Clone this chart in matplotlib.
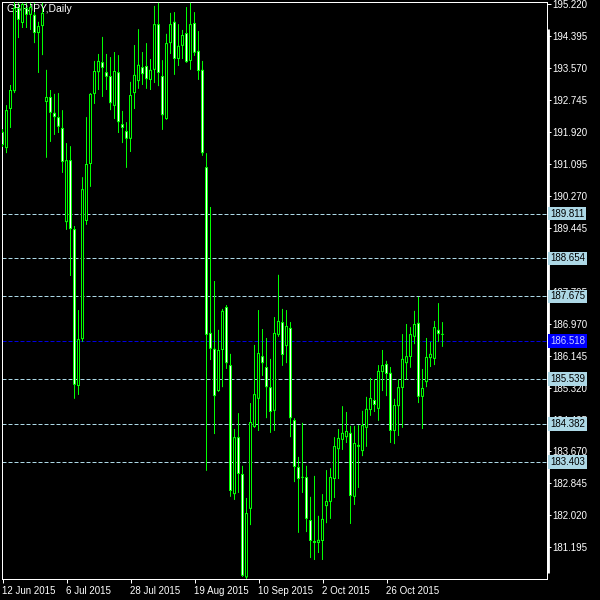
import matplotlib
matplotlib.use("Agg")
import matplotlib.pyplot as plt
import numpy as np

plt.rcParams['font.family'] = ['Liberation Sans', 'DejaVu Sans']

# GBPJPY daily, 12 Jun 2015 .. mid Nov 2015
opens = [191.92, 191.50, 192.51, 192.97, 195.12, 194.73, 195.12, 194.94, 194.94, 194.47,
         194.65, 192.69, 192.82, 192.41, 192.30, 192.02, 189.59, 191.19, 189.41, 185.36,
         186.57, 189.62, 191.09, 192.90, 193.46, 193.72, 193.46, 193.36, 192.59, 193.46,
         192.12, 191.94, 191.74, 192.92, 193.23, 193.59, 193.62, 193.26, 193.52, 194.70,
         193.36, 192.25, 194.21, 194.76, 193.80, 194.14, 194.47, 193.75, 194.73, 194.01,
         193.52, 191.01, 186.73, 186.32, 185.23, 186.29, 187.40, 185.90, 182.57, 184.04,
         183.09, 180.42, 182.19, 184.30, 185.03, 186.13, 185.85, 185.33, 184.72, 186.68,
         187.01, 186.39, 186.86, 184.48, 183.27, 183.01, 183.01, 181.90, 181.36, 181.31,
         181.36, 182.26, 182.37, 182.96, 183.73, 183.97, 184.04, 184.15, 182.50, 183.84,
         183.68, 184.28, 184.74, 185.00, 184.77, 185.72, 185.93, 185.70, 184.20, 184.84,
         185.31, 185.95, 186.11, 186.63, 186.99, 185.08, 185.46, 186.08, 186.06, 186.81,
         186.70]
highs = [191.99, 192.61, 193.13, 195.27, 195.25, 195.25, 195.25, 195.25, 195.25, 194.76,
         195.25, 193.52, 193.00, 192.90, 192.92, 192.48, 191.63, 191.55, 189.49, 187.32,
         190.75, 192.30, 192.92, 193.75, 193.93, 194.37, 193.93, 193.85, 193.98, 193.90,
         192.46, 192.17, 193.21, 194.16, 194.57, 193.98, 194.21, 193.80, 195.17, 195.25,
         193.77, 194.45, 194.99, 195.01, 194.70, 194.55, 195.14, 195.25, 195.01, 194.52,
         193.75, 191.37, 189.98, 188.07, 186.81, 187.35, 187.45, 186.19, 184.25, 184.66,
         183.30, 182.47, 184.92, 186.42, 187.32, 186.83, 186.60, 186.06, 187.14, 188.23,
         187.35, 187.32, 187.01, 184.53, 183.53, 184.41, 183.30, 182.50, 183.04, 182.01,
         182.57, 183.19, 183.24, 184.04, 184.25, 184.84, 184.69, 184.33, 184.33, 184.35,
         184.72, 185.08, 185.57, 185.54, 185.90, 186.29, 186.01, 185.85, 185.03, 185.54,
         186.70, 186.96, 186.88, 187.30, 187.66, 185.80, 186.60, 186.50, 187.04, 187.50,
         187.01]
lows = [191.53, 191.37, 192.02, 192.92, 194.34, 194.60, 194.60, 194.55, 194.21, 193.44,
        193.90, 191.25, 191.66, 191.84, 191.89, 190.86, 189.39, 188.20, 185.03, 185.13,
        186.50, 189.52, 190.50, 192.64, 193.00, 192.82, 193.00, 192.48, 192.25, 191.89,
        191.63, 190.99, 191.40, 192.51, 193.03, 193.13, 193.03, 193.00, 193.18, 193.10,
        191.97, 192.23, 193.93, 193.39, 193.62, 193.80, 193.70, 193.52, 193.88, 193.26,
        191.30, 183.17, 186.03, 184.12, 185.21, 185.33, 185.80, 182.50, 182.42, 182.60,
        180.43, 180.38, 181.77, 184.28, 184.20, 185.62, 184.53, 184.15, 184.20, 186.63,
        185.88, 185.95, 184.04, 182.88, 181.57, 182.60, 181.59, 180.92, 180.87, 181.05,
        180.87, 181.82, 181.93, 182.47, 182.96, 183.71, 183.89, 181.80, 182.29, 182.73,
        183.55, 183.79, 184.59, 184.69, 184.46, 185.23, 185.10, 183.89, 183.86, 184.07,
        184.28, 185.52, 185.83, 186.44, 184.92, 184.25, 185.33, 185.85, 185.90, 186.50,
        186.37]
closes = [191.58, 192.48, 193.00, 195.12, 194.81, 195.22, 194.94, 195.14, 194.47, 194.65,
          194.99, 192.82, 192.41, 192.30, 192.05, 191.14, 191.19, 189.41, 185.39, 186.57,
          190.44, 191.09, 192.90, 193.49, 193.75, 193.57, 193.34, 192.66, 193.49, 192.17,
          192.02, 191.74, 192.87, 193.39, 193.65, 193.41, 193.28, 193.52, 194.70, 193.44,
          192.35, 194.21, 194.70, 193.80, 194.14, 194.42, 193.72, 194.70, 193.96, 193.49,
          191.37, 186.68, 186.32, 185.10, 186.29, 187.30, 185.95, 182.65, 184.04, 183.09,
          180.46, 182.08, 184.43, 185.15, 186.21, 185.95, 185.33, 184.69, 186.73, 187.04,
          186.16, 186.91, 184.53, 183.27, 182.96, 182.99, 181.93, 181.36, 181.31, 181.39,
          181.93, 182.39, 183.01, 183.81, 184.02, 184.15, 184.20, 182.52, 183.89, 183.79,
          184.35, 184.77, 185.05, 184.87, 185.75, 185.90, 185.67, 184.20, 184.87, 185.33,
          186.06, 186.13, 186.70, 186.96, 185.08, 185.31, 186.11, 186.19, 186.88, 186.70,
          186.68]

date_pos = [0, 16, 32, 48, 64, 80, 96]
date_labels = ['12 Jun 2015', '6 Jul 2015', '28 Jul 2015', '19 Aug 2015',
               '10 Sep 2015', '2 Oct 2015', '26 Oct 2015']

price_ticks = [195.220, 194.395, 193.570, 192.745, 191.920, 191.095, 190.270, 189.445,
               188.620, 187.795, 186.970, 186.145, 185.320, 184.495, 183.670, 182.845,
               182.020, 181.195]

levels = [189.811, 188.654, 187.675, 185.539, 184.382, 183.403]
bid = 186.518

o = np.array(opens)
h = np.array(highs)
l = np.array(lows)
c = np.array(closes)
x = np.arange(len(o))
up = c >= o

fig = plt.figure(figsize=(6, 6), dpi=100, facecolor='black')
ax = fig.add_axes([2 / 600, 21 / 600, 545 / 600, 577 / 600])
ax.set_facecolor('black')
ax.set_xlim(-0.125, 136.125)
ax.set_ylim(180.379, 195.271)
px = (195.271 - 180.379) / 577  # one screen pixel in price units

green = '#00FF00'
ax.vlines(x, l, h, color=green, lw=0.72, zorder=3, snap=False)
body = np.abs(c - o)
bottom = np.minimum(o, c)
# green outline (3 px wide), then the 1 px inner fill:
# MetaTrader "green on black" -> bull candle black, bear candle white
ax.bar(x, np.maximum(body, px), bottom=bottom, width=0.75, color=green,
       lw=0, zorder=4, snap=False)
inner = body - 2 * px
m = inner > 0
ax.bar(x[m], inner[m], bottom=bottom[m] + px, width=0.25,
       color=np.where(up, 'black', 'white')[m], lw=0, zorder=5, snap=False)

for p in levels:
    ax.axhline(p, color='#ADD8E6', lw=0.72, ls=(0, (4, 2)), zorder=2)
ax.axhline(bid, color='#0000E0', lw=0.72, ls=(0, (4, 2)), zorder=2)

ax.yaxis.tick_right()
ax.set_yticks(price_ticks)
ax.set_yticklabels([f'{t:.3f}' for t in price_ticks])
ax.set_xticks(date_pos)
ax.set_xticklabels(date_labels, ha='left')
ax.tick_params(axis='y', colors='white', length=3, width=0.72, pad=1, labelsize=7)
ax.tick_params(axis='x', colors='white', length=3, width=0.72, pad=2, labelsize=7)
for s in ax.spines.values():
    s.set_color('white')
    s.set_linewidth(0.72)

# thick bar on the price scale edge
ax.plot([1.002, 1.002], [6 / 577, 550 / 577], transform=ax.transAxes, color='white',
        lw=2, clip_on=False, solid_capstyle='butt')

ax.text(0.009, 0.996, 'GBPJPY,Daily', transform=ax.transAxes, color='white',
        fontsize=7.5, ha='left', va='top')

trans = ax.get_yaxis_transform()
for p in levels:
    ax.text(1.0055, p, f'{p:.3f}', transform=trans, ha='left', va='center',
            color='black', fontsize=7, zorder=5,
            bbox=dict(boxstyle='square,pad=0.18', fc='#ADD8E6', ec='none'))
ax.text(1.0055, bid, f'{bid:.3f}', transform=trans, ha='left', va='center',
        color='#C8D0FF', fontsize=7, zorder=5,
        bbox=dict(boxstyle='square,pad=0.18', fc='#0000FF', ec='none'))

fig.savefig('out.png', dpi=100, facecolor='black')
